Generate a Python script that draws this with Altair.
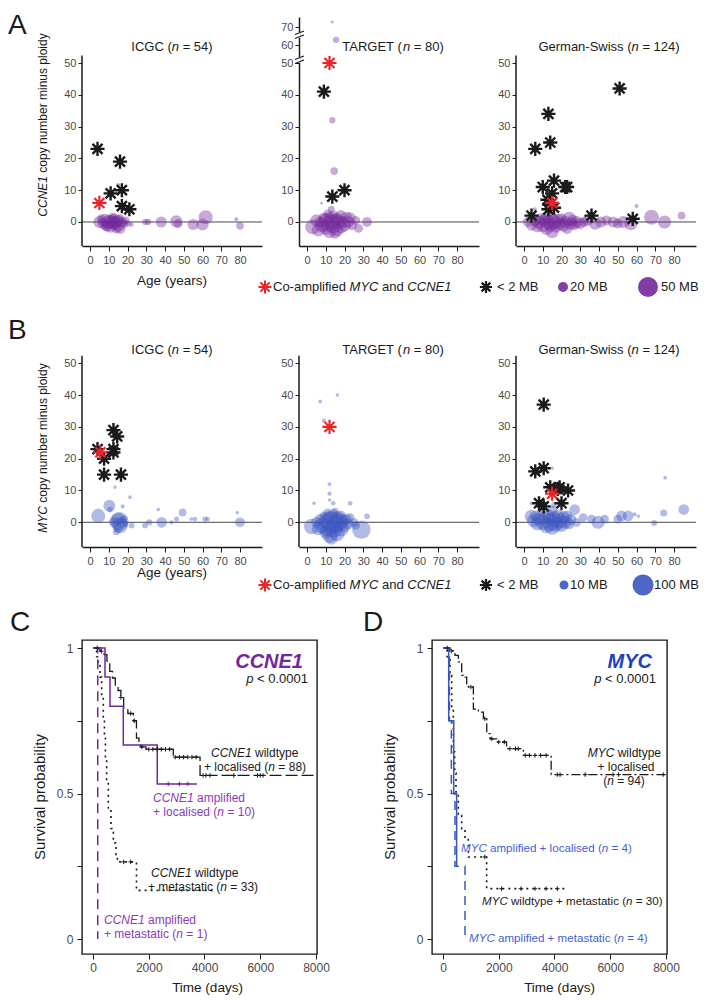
import altair as alt
import pandas as pd

FONT = "Liberation Sans"
INK = "#1a1a1a"
LAB = "#4a4a4a"
PURPLE = "#74279b"
PURPLE_TXT = "#8a3ab8"
BLUE = "#3b55bf"
BLUE_TXT = "#3f5fd6"
RED = "#ec2226"

# ---------------- data: panel A (CCNE1) ----------------
ca_icgc_age = [5, 7, 8, 9, 10, 11, 11, 12, 13, 13, 14, 15, 15, 16, 17, 18, 19, 20, 6, 9, 12, 14, 16, 15, 22, 29.5, 31, 38, 46, 47, 55, 60, 61.7, 78, 80]
ca_icgc_cn = [0, -0.5, 0.5, -1, 0, 0.5, -1.5, 0, -0.5, 1, 0, -1, 0.5, -2, 0, -0.5, 0.5, -0.5, 1, -1.5, 1.5, -2, 1.2, 11.6, -0.8, 0, 0, 0, 0.2, -0.5, -0.8, -0.8, 1.5, 0.9, -1.2]
ca_icgc_mb = [37, 31, 43, 37, 50, 31, 37, 43, 37, 25, 37, 43, 31, 31, 25, 20, 14.7, 10, 20, 25, 20, 25, 14.7, 4, 6, 10, 10, 31, 37, 20, 31, 37, 50, 4, 14.7]
ca_icgc_ast_age = [4, 16, 11, 17, 17, 21]
ca_icgc_ast_cn = [23, 19, 9, 10, 5, 4]
ca_icgc_red_age = [5]
ca_icgc_red_cn = [6]

ca_tgt_age = [3, 5, 6, 7, 8, 9, 10, 10, 11, 12, 12, 13, 14, 14, 15, 16, 16, 17, 18, 18, 19, 20, 21, 22, 23, 24, 26, 27.5, 32, 11, 15, 13.5, 14.5, 15.5, 13.5, 13, 7.8]
ca_tgt_cn = [-1.5, 0.5, -2.5, 0, -1, 1, -2, 0.5, -1, -3, 1.5, 0, -1.5, 2, 0.5, -2.5, 1, 0, -1.5, 2, 0, -1, 1.5, 0, 1.3, -1, 0.5, -2, 0, 2.5, -3.5, 32, 16, 63, 73, 4, 6]
ca_tgt_mb = [56, 37, 43, 31, 50, 37, 43, 50, 43, 43, 31, 56, 50, 25, 43, 43, 37, 50, 43, 31, 37, 43, 31, 37, 31, 25, 20, 20, 25, 20, 31, 10, 14.7, 10, 2.3, 12, 2.3]
ca_tgt_ast_age = [9, 13.5, 20]
ca_tgt_ast_cn = [41, 8, 10]
ca_tgt_red_age = [12]
ca_tgt_red_cn = [50]

ca_gs_age = [2, 4, 6, 7, 8, 9, 10, 11, 12, 12, 13, 14, 15, 15, 16, 17, 18, 19, 20, 21, 22, 23, 24, 25, 26, 27, 28, 30, 32, 34, 38, 41, 44, 47.6, 50, 53, 57, 68, 75, 84, 60, 5.7]
ca_gs_cn = [0, -1, 0.5, -1.5, 0, 1, -1, 0.5, -2, 1.5, 0, -1, 1, -3, 0, -1.5, 0.5, -0.5, 1, -1, 0, -2, 1, -0.5, 0.5, -1, 0, -0.5, 0, 0.5, -0.5, 0, 0.5, 0, -0.5, 0, -0.5, 1.5, 0, 2, 5, 4]
ca_gs_mb = [25, 31, 37, 31, 43, 31, 50, 37, 43, 31, 50, 43, 37, 43, 56, 37, 43, 37, 31, 43, 37, 31, 50, 37, 31, 25, 37, 31, 25, 31, 37, 31, 25, 31, 25, 37, 43, 56, 43, 14.7, 4, 4]
ca_gs_ast_age = [51, 13, 14, 6, 16, 10, 22, 23, 15, 12.5, 13, 16, 13.5, 4, 36, 58]
ca_gs_ast_cn = [42, 34, 25, 23, 13, 11, 11, 11, 9, 7, 4, 4.5, 5.5, 2, 2, 1]
ca_gs_red_age = [15]
ca_gs_red_cn = [6]

# ---------------- data: panel B (MYC) ----------------
my_icgc_age = [4.4, 10.3, 10.7, 15.6, 13, 15, 16, 17, 15, 18, 14, 19, 17.4, 21.3, 13.3, 22.2, 29.3, 31.6, 38.2, 36.4, 43.5, 46.2, 49.4, 54, 56, 61.3, 62.7, 78.6, 80]
my_icgc_cn = [2, 5.2, 4, 0.3, 0, 1, -1, 0, -2, 1, -3, -0.5, 5, 7.9, 11, -1, -1, 0, 0, 4, 0, 1, 3.1, 1, 1, 1, 1, 3, 0]
my_icgc_mb = [50, 35, 8.1, 85, 28.6, 42, 60, 28.6, 19, 12.4, 12.4, 8.1, 4.4, 3.7, 3.2, 8.1, 8.1, 10, 28.6, 3.2, 4.4, 6.5, 15, 3.7, 5.3, 6.5, 5.3, 3.2, 24]
my_icgc_ast_age = [4, 7.5, 7.5, 12.5, 14.5, 12.5, 12.5, 16.5]
my_icgc_ast_cn = [23, 20, 15, 29, 27, 23, 22, 15]
my_icgc_red_age = [5.5]
my_icgc_red_cn = [22]

my_tgt_age = [7, 16.2, 9, 12, 12, 12, 14, 23, 3.7, 2.5, 29, 32, 5, 6, 7, 8, 9, 10, 10, 11, 12, 12, 13, 14, 14, 15, 16, 16, 17, 18, 18, 19, 20, 21, 22, 23, 25, 26, 11, 15, 13]
my_tgt_cn = [38, 40, 32, 12, 9, 7, 6, 6, 6, -1.3, -2.3, 1.9, 0, -2, 1, -1, 2, -3, 0.5, -1.5, 1.5, -4, 0, -2, 2.5, -0.5, -3.5, 1, 0, -2, 2, 0.5, -1, 1, -0.5, 1.5, 0, -1, 3, 3.5, -5]
my_tgt_mb = [3.7, 3.2, 4.4, 3.7, 4.4, 3.2, 5.3, 5.3, 3.2, 60, 85, 8.1, 28.6, 42, 28.6, 60, 19, 42, 60, 85, 42, 60, 117, 85, 28.6, 85, 60, 60, 85, 60, 28.6, 42, 42, 28.6, 28.6, 19, 19, 19, 19, 12.4, 42]
my_tgt_ast_age = []
my_tgt_ast_cn = []
my_tgt_red_age = [12]
my_tgt_red_cn = [30]

my_gs_age = [3.8, 5, 6, 7, 8, 9, 10, 11, 12, 13, 14, 15, 15, 16, 17, 18, 19, 20, 21, 22, 23, 24, 25, 27, 28, 31.5, 36, 39.5, 43, 50, 52, 55.5, 59, 61, 69.4, 74.5, 85.2, 75.3, 15, 3.8, 16]
my_gs_cn = [1.9, 0.5, 2, -0.5, 1, 3, 0, 1.5, -1, 2, 0, 3.5, -1.5, 1, -0.5, 2, 0.5, -1, 1.5, 0, 2, -0.5, 1, 4, 0, 1.5, 1, 0, 1, 1, 2, 2, 2.5, 1.9, -0.2, 2.9, 4, 14, 17, 6, 5.5]
my_gs_mb = [42, 42, 28.6, 42, 42, 19, 60, 42, 60, 42, 85, 28.6, 60, 60, 60, 42, 60, 42, 42, 42, 28.6, 28.6, 28.6, 28.6, 19, 19, 19, 42, 19, 19, 28.6, 28.6, 4.4, 3.2, 8.1, 12.4, 28.6, 3.7, 3.2, 3.2, 8.1]
my_gs_ast_age = [10.5, 6, 10.5, 14, 19, 18, 23.5, 8, 10.5, 20]
my_gs_ast_cn = [37, 16, 17, 11, 11, 10.5, 10, 6, 5, 6]
my_gs_red_age = [15]
my_gs_red_cn = [9]

# ---------------- data: survival curves ----------------
c_wl_t = [0, 250, 400, 500, 600, 700, 800, 900, 1000, 1100, 1250, 1450, 1560, 1650, 1700, 1900, 2880, 3840, 7980]
c_wl_s = [1, 0.989, 0.977, 0.955, 0.92, 0.897, 0.87, 0.854, 0.83, 0.79, 0.775, 0.75, 0.69, 0.67, 0.66, 0.652, 0.625, 0.562, 0.562]
c_wl_cens = [150, 300, 1000, 1350, 1480, 1750, 2000, 2150, 2300, 2450, 2600, 2750, 2950, 3100, 3250, 3400, 3550, 3700, 3950, 4050, 4200, 5050, 5900, 6000, 6100]
c_al_t = [0, 430, 610, 1087, 2305, 3730]
c_al_s = [1, 0.9, 0.8, 0.667, 0.533, 0.533]
c_al_cens = [2700, 3100, 3400]
c_wm_t = [0, 130, 190, 250, 310, 370, 410, 445, 490, 550, 645, 730, 825, 873, 1560, 4430]
c_wm_s = [1, 0.97, 0.94, 0.9, 0.83, 0.76, 0.69, 0.62, 0.54, 0.45, 0.38, 0.33, 0.29, 0.265, 0.167, 0.167]
c_wm_cens = [1100, 1350]
c_am_t = [0, 170]
c_am_s = [1, 0]

d_wl_t = [0, 250, 430, 550, 670, 790, 850, 910, 1090, 1270, 1450, 1570, 1690, 1925, 2280, 2880, 3880, 7980]
d_wl_s = [1, 0.99, 0.975, 0.952, 0.906, 0.9, 0.877, 0.866, 0.79, 0.78, 0.757, 0.706, 0.688, 0.677, 0.654, 0.631, 0.565, 0.565]
d_wl_cens = [150, 300, 1000, 1500, 1750, 2000, 2200, 2400, 2600, 2700, 2950, 3100, 3300, 3500, 3700, 4100, 4200, 5100, 6100, 6300, 7900]
d_al_t = [0, 205, 385, 490, 530]
d_al_s = [1, 0.75, 0.5, 0.25, 0.25]
d_am_t = [0, 230, 300, 430, 790]
d_am_s = [1, 0.75, 0.5, 0.25, 0]
d_wm_t = [0, 150, 251, 311, 371, 420, 466, 550, 670, 789, 908, 1566, 4437]
d_wm_s = [1, 0.97, 0.906, 0.792, 0.643, 0.57, 0.505, 0.425, 0.379, 0.345, 0.282, 0.173, 0.173]
d_wm_cens = [1500, 2100, 2800, 3300, 3700, 4100]

# ---------------- helpers ----------------
AW = {' ': 278, '(': 333, ')': 333, '+': 584, '-': 333, '.': 278, '<': 584, '=': 584,
      'A': 667, 'B': 667, 'C': 722, 'D': 722, 'E': 667, 'G': 778, 'I': 278, 'M': 833, 'N': 722,
      'R': 722, 'S': 667, 'T': 611, 'W': 944, 'Y': 667,
      'a': 556, 'b': 556, 'c': 500, 'd': 556, 'e': 556, 'f': 278, 'g': 556, 'h': 556, 'i': 222,
      'l': 222, 'm': 833, 'n': 556, 'o': 556, 'p': 556, 'r': 333, 's': 500, 't': 278, 'u': 556,
      'v': 500, 'w': 722, 'y': 500}


def tw(s, size):
    return sum(AW.get(ch, 556) for ch in s) * size / 1000.0


ONE = pd.DataFrame({"k": [0]})
ASTER = "M0,-1L0,1M-1,0L1,0M-0.71,-0.71L0.71,0.71M-0.71,0.71L0.71,-0.71"
PLUS = "M-1,0L1,0M0,-1L0,1"


def txt(text, x, y, size, color=INK, italic=False, bold=False, align="left",
        baseline="alphabetic", angle=0):
    kw = dict(text=text, font=FONT, fontSize=size, color=color, align=align, baseline=baseline)
    if italic:
        kw["fontStyle"] = "italic"
    if bold:
        kw["fontWeight"] = "bold"
    if angle:
        kw["angle"] = angle
    return alt.Chart(ONE).mark_text(**kw).encode(x=alt.value(x), y=alt.value(y))


def rich(segs, x, y, size, color=INK, align="left", baseline="alphabetic", angle=0):
    total = sum(tw(t, size) for t, _ in segs)
    off = -total / 2 if align == "center" else (-total if align == "right" else 0)
    out = []
    for t, it in segs:
        lead = len(t) - len(t.lstrip(' '))
        core = t.strip(' ')
        pos = off + tw(' ' * lead, size)
        if core:
            if angle == 270:
                out.append(txt(core, x, y - pos, size, color, italic=it, baseline=baseline, angle=270))
            else:
                out.append(txt(core, x + pos, y, size, color, italic=it, baseline=baseline))
        off += tw(t, size)
    return out


def sym(x, y, shape, size, color, sw=2.3, filled=False, opacity=1.0):
    kw = dict(shape=shape, size=size, color=color, opacity=opacity, filled=filled)
    if not filled:
        kw["strokeWidth"] = sw
    return alt.Chart(ONE).mark_point(**kw).encode(x=alt.value(x), y=alt.value(y))


def vrule(x, y, x2, y2, color=INK, sw=1.2):
    return alt.Chart(ONE).mark_rule(color=color, strokeWidth=sw).encode(
        x=alt.value(x), y=alt.value(y), x2=alt.value(x2), y2=alt.value(y2))


def ghost(x, y):
    # invisible anchor used only to pin the layout bounds
    return alt.Chart(ONE).mark_circle(size=1, opacity=0).encode(x=alt.value(x), y=alt.value(y))


XDOM = [-4.27, 91.73]
BREAK_EXPR = "datum.cn <= 50 ? datum.cn : 50 + (datum.cn - 50) * 0.56"


def scatter(bage, bcn, bmb, kage, kcn, rage, rcn, color, size_scale, ydom, H,
            axis_top=52.4, brk=False, extra=()):
    xsc = alt.Scale(domain=XDOM, nice=False, zero=False)
    ysc = alt.Scale(domain=ydom, nice=False, zero=False)
    xax = alt.Axis(values=list(range(0, 81, 10)), title=None, tickSize=5, labelFlush=False,
                   domainWidth=1.5, labelPadding=3)
    if brk:
        yax = alt.Axis(values=[0, 10, 20, 30, 40, 50, 55.6, 61.2], title=None, tickSize=4,
                       labelFlush=False, domainWidth=1.5,
                       labelExpr="datum.value > 58 ? '70' : (datum.value > 52 ? '60' : datum.label)")
    else:
        yax = alt.Axis(values=[0, 10, 20, 30, 40, 50], title=None, tickSize=4,
                       labelFlush=False, domain=False)
    yf = "yp:Q" if brk else "cn:Q"
    X = alt.X("age:Q", scale=xsc, axis=xax)
    Y = alt.Y(yf, scale=ysc, axis=yax)

    def base(df):
        c = alt.Chart(df)
        if brk:
            c = c.transform_calculate(yp=BREAK_EXPR)
        return c

    zero_df = pd.DataFrame({"age": [0.0], "cn": [0.0]})
    layers = [base(zero_df).mark_rule(color="#333", strokeWidth=0.9).encode(y=Y)]
    bub = pd.DataFrame({"age": bage, "cn": bcn, "mb": bmb})
    layers.append(base(bub).mark_circle(color=color, opacity=0.4).encode(
        x=X, y=Y, size=alt.Size("mb:Q", scale=size_scale, legend=None)))
    if kage:
        ast = pd.DataFrame({"age": kage, "cn": kcn})
        layers.append(base(ast).mark_point(shape=ASTER, filled=False, size=200, strokeWidth=2.4,
                                           color=INK, opacity=1).encode(x=X, y=Y))
    red = pd.DataFrame({"age": rage, "cn": rcn})
    layers.append(base(red).mark_point(shape=ASTER, filled=False, size=200, strokeWidth=2.1,
                                       color=RED, opacity=1).encode(x=X, y=Y))
    if not brk:
        ax_df = pd.DataFrame({"lo": [ydom[0]], "hi": [axis_top]})
        layers.append(alt.Chart(ax_df).mark_rule(color=INK, strokeWidth=1.5).encode(
            x=alt.value(0), y=alt.Y("lo:Q", scale=ysc, axis=yax), y2="hi:Q"))
    layers.extend(extra)
    return alt.layer(*layers).properties(width=180, height=H)


A_Y = [-7.55, 64.47]
B_Y = [-7.77, 57.33]
A_H = 229
B_H = 207
# bubble area scales (area grows linearly with MB)
SIZE_A = alt.Scale(type="linear", domain=[0, 50], range=[0, 400])
SIZE_B = alt.Scale(type="linear", domain=[0, 100], range=[0, 441])

TS = 13      # panel title size
YT = 12      # y-title size
LG = 13      # legend size


def title_segs(name, n):
    return [(name + " (", False), ("n", True), (" = " + n + ")", False)]


# ---------- row A ----------
a1_extra = [ghost(-70, -8.5), txt("A", -74, -5, 28, baseline="top")]
a1_extra += rich(title_segs("ICGC", "54"), 90, 30, TS, align="center", baseline="middle")
a1_extra += rich([("CCNE1", True), (" copy number minus ploidy", False)], -39, 108, YT,
                 align="center", baseline="middle", angle=270)
a1_extra.append(txt("Age (years)", 90, 264, 13.5, align="center", baseline="middle"))
a1_extra.append(ghost(90, 287.5))   # pins the gap below row A
A1 = scatter(ca_icgc_age, ca_icgc_cn, ca_icgc_mb, ca_icgc_ast_age, ca_icgc_ast_cn,
             ca_icgc_red_age, ca_icgc_red_cn, PURPLE, SIZE_A, A_Y, A_H, extra=a1_extra)

a2_extra = rich(title_segs("TARGET", "80"), 94, 30, TS, align="center", baseline="middle")
for cy in (18, 43):
    a2_extra.append(vrule(0, cy - 3, 0, cy + 3, color="white", sw=3))
    a2_extra.append(vrule(-4, cy - 0.5, 5, cy - 4, sw=1.1))
    a2_extra.append(vrule(-4, cy + 3.5, 5, cy, sw=1.1))
LY_A = 270
a2_extra.append(sym(-34, LY_A, ASTER, 170, RED, sw=2.0))
a2_extra += rich([("Co-amplified ", False), ("MYC", True), (" and ", False), ("CCNE1", True)],
                 -26, LY_A, LG, baseline="middle")
a2_extra.append(sym(187, LY_A, ASTER, 150, INK, sw=2.2))
a2_extra.append(txt("< 2 MB", 198, LY_A, LG, baseline="middle"))
a2_extra.append(sym(264, LY_A, "circle", 100, PURPLE, filled=True, opacity=0.9))
a2_extra.append(txt("20 MB", 271, LY_A, LG, baseline="middle"))
a2_extra.append(sym(349, LY_A, "circle", 400, PURPLE, filled=True, opacity=0.9))
a2_extra.append(txt("50 MB", 362, LY_A, LG, baseline="middle"))
A2 = scatter(ca_tgt_age, ca_tgt_cn, ca_tgt_mb, ca_tgt_ast_age, ca_tgt_ast_cn,
             ca_tgt_red_age, ca_tgt_red_cn, PURPLE, SIZE_A, A_Y, A_H, brk=True, extra=a2_extra)

a3_extra = rich(title_segs("German-Swiss", "124"), 93, 30, TS, align="center", baseline="middle")
A3 = scatter(ca_gs_age, ca_gs_cn, ca_gs_mb, ca_gs_ast_age, ca_gs_ast_cn,
             ca_gs_red_age, ca_gs_red_cn, PURPLE, SIZE_A, A_Y, A_H, extra=a3_extra)

# ---------- row B ----------
b1_extra = [txt("B", -74, -23, 28, baseline="top")]
b1_extra += rich(title_segs("ICGC", "54"), 90, 10, TS, align="center", baseline="middle")
b1_extra += rich([("MYC", True), (" copy number minus ploidy", False)], -39, 108, YT,
                 align="center", baseline="middle", angle=270)
b1_extra.append(txt("Age (years)", 90, 233, 13.5, align="center", baseline="middle"))
B1 = scatter(my_icgc_age, my_icgc_cn, my_icgc_mb, my_icgc_ast_age, my_icgc_ast_cn,
             my_icgc_red_age, my_icgc_red_cn, BLUE, SIZE_B, B_Y, B_H, extra=b1_extra)

LY_B = 245
b2_extra = rich(title_segs("TARGET", "80"), 94, 10, TS, align="center", baseline="middle")
b2_extra.append(sym(-34, LY_B, ASTER, 170, RED, sw=2.0))
b2_extra += rich([("Co-amplified ", False), ("MYC", True), (" and ", False), ("CCNE1", True)],
                 -26, LY_B, LG, baseline="middle")
b2_extra.append(sym(187, LY_B, ASTER, 150, INK, sw=2.2))
b2_extra.append(txt("< 2 MB", 198, LY_B, LG, baseline="middle"))
b2_extra.append(sym(265, LY_B, "circle", 81, BLUE, filled=True, opacity=0.9))
b2_extra.append(txt("10 MB", 271, LY_B, LG, baseline="middle"))
b2_extra.append(sym(344, LY_B, "circle", 441, BLUE, filled=True, opacity=0.9))
b2_extra.append(txt("100 MB", 355, LY_B, LG, baseline="middle"))
B2 = scatter(my_tgt_age, my_tgt_cn, my_tgt_mb, my_tgt_ast_age, my_tgt_ast_cn,
             my_tgt_red_age, my_tgt_red_cn, BLUE, SIZE_B, B_Y, B_H, extra=b2_extra)

b3_extra = rich(title_segs("German-Swiss", "124"), 93, 10, TS, align="center", baseline="middle")
B3 = scatter(my_gs_age, my_gs_cn, my_gs_mb, my_gs_ast_age, my_gs_ast_cn,
             my_gs_red_age, my_gs_red_cn, BLUE, SIZE_B, B_Y, B_H, extra=b3_extra)

# ---------- row C/D (survival) ----------
KX = [-394.6, 8035.9]
KY = [-0.0515, 1.0275]


def s_at(ts, ss, t):
    v = ss[0]
    for a, b in zip(ts, ss):
        if a <= t:
            v = b
    return v


def km(curves, cens, extra):
    xsc = alt.Scale(domain=KX, nice=False, zero=False)
    ysc = alt.Scale(domain=KY, nice=False, zero=False)
    xax = alt.Axis(values=[0, 2000, 4000, 6000, 8000], format="d", title=None, tickSize=5,
                   labelFlush=False, domain=False, labelFontSize=12, labelPadding=3)
    yax = alt.Axis(values=[0, 0.25, 0.5, 0.75, 1], title=None, tickSize=5, labelFlush=False,
                   domain=False, labelFontSize=12, labelPadding=4,
                   labelExpr="datum.value == 0.5 ? '0.5' : (datum.value == 0 ? '0' : (datum.value == 1 ? '1' : ''))")
    X = alt.X("t:Q", scale=xsc, axis=xax)
    Y = alt.Y("s:Q", scale=ysc, axis=yax)
    layers = []
    for ts, ss, color, dash, w in curves:
        kw = dict(interpolate="step-after", color=color, strokeWidth=w)
        if dash:
            kw["strokeDash"] = dash
        layers.append(alt.Chart(pd.DataFrame({"t": ts, "s": ss})).mark_line(**kw).encode(x=X, y=Y))
    for ts, ss, ct, color in cens:
        df = pd.DataFrame({"t": ct, "s": [s_at(ts, ss, t) for t in ct]})
        layers.append(alt.Chart(df).mark_point(shape=PLUS, filled=False, size=20, strokeWidth=1,
                                               color=color, opacity=1).encode(x=X, y=Y))
    layers.extend(extra)
    return alt.layer(*layers).properties(
        width=235, height=314, view=alt.ViewBackground(stroke=INK, strokeWidth=1.4))


KL = 12
c_extra = [txt("C", -72, -31, 28, baseline="top"),
           txt("CCNE1", 221, 28, 20, color=PURPLE, italic=True, bold=True, align="right")]
c_extra += rich([("p", True), (" < 0.0001", False)], 226, 43, 13, align="right")
c_extra += rich([("Survival probability", False)], -42, 157, 15, align="center",
                baseline="middle", angle=270)
c_extra.append(txt("Time (days)", 125.5, 348, 13.5, align="center", baseline="middle"))
c_extra += rich([("CCNE1", True), (" wildtype", False)], 129, 117, KL)
c_extra += rich([("+ localised (", False), ("n", True), (" = 88)", False)], 122, 131, KL)
c_extra += rich([("CCNE1", True), (" amplified", False)], 71, 162, KL, color=PURPLE_TXT)
c_extra += rich([("+ localised (", False), ("n", True), (" = 10)", False)], 71, 176, KL, color=PURPLE_TXT)
c_extra += rich([("CCNE1", True), (" wildtype", False)], 69, 237, KL)
c_extra += rich([("+ metastatic (", False), ("n", True), (" = 33)", False)], 66, 251, KL)
c_extra += rich([("CCNE1", True), (" amplified", False)], 22, 284, KL, color=PURPLE_TXT)
c_extra += rich([("+ metastatic (", False), ("n", True), (" = 1)", False)], 22, 298, KL, color=PURPLE_TXT)

C = km([(c_wl_t, c_wl_s, INK, [12, 4], 1.3),
        (c_wm_t, c_wm_s, INK, [2, 4], 1.6),
        (c_al_t, c_al_s, PURPLE, None, 1.5),
        (c_am_t, c_am_s, PURPLE, [10, 6], 1.5)],
       [(c_wl_t, c_wl_s, c_wl_cens, INK), (c_al_t, c_al_s, c_al_cens, PURPLE),
        (c_wm_t, c_wm_s, c_wm_cens, INK)],
       c_extra)

d_extra = [txt("D", -69, -31, 28, baseline="top"),
           txt("MYC", 220, 28, 20, color="#1e3fc4", italic=True, bold=True, align="right")]
d_extra += rich([("p", True), (" < 0.0001", False)], 224, 43, 13, align="right")
d_extra += rich([("Survival probability", False)], -42, 157, 15, align="center",
                baseline="middle", angle=270)
d_extra.append(txt("Time (days)", 127.5, 348, 13.5, align="center", baseline="middle"))
d_extra += rich([("MYC", True), (" wildtype", False)], 229, 117, KL, align="right")
d_extra += rich([("+ localised", False)], 194, 131, KL, align="center")
d_extra += rich([("(", False), ("n", True), (" = 94)", False)], 192, 145, KL, align="center")
d_extra += rich([("MYC", True), (" amplified + localised (", False), ("n", True), (" = 4)", False)],
                29, 212, 11.6, color=BLUE_TXT)
d_extra += rich([("MYC", True), (" wildtype + metastatic (", False), ("n", True), (" = 30)", False)],
                50, 265, 11.6)
d_extra += rich([("MYC", True), (" amplified + metastatic (", False), ("n", True), (" = 4)", False)],
                37, 302, 11.6, color=BLUE_TXT)

D = km([(d_wl_t, d_wl_s, INK, [9, 3, 2, 3], 1.3),
        (d_wm_t, d_wm_s, INK, [2, 4], 1.6),
        (d_am_t, d_am_s, BLUE, [9, 6], 1.5),
        (d_al_t, d_al_s, BLUE, None, 1.5)],
       [(d_wl_t, d_wl_s, d_wl_cens, INK), (d_wm_t, d_wm_s, d_wm_cens, INK)],
       d_extra)

rowA = alt.hconcat(A1, A2, A3, spacing=37, bounds="flush")
rowB = alt.hconcat(B1, B2, B3, spacing=37, bounds="flush")
rowC = alt.hconcat(C, D, spacing=115, bounds="flush")

chart = alt.vconcat(rowA, rowB, rowC, spacing=12, padding=0).configure_view(
    strokeWidth=0
).configure_axis(
    labelFont=FONT, labelColor=LAB, labelFontSize=11, tickColor=INK, domainColor=INK,
    grid=False, tickWidth=1
)

chart.save("out.html", embed_options={"renderer": "svg", "actions": False})
